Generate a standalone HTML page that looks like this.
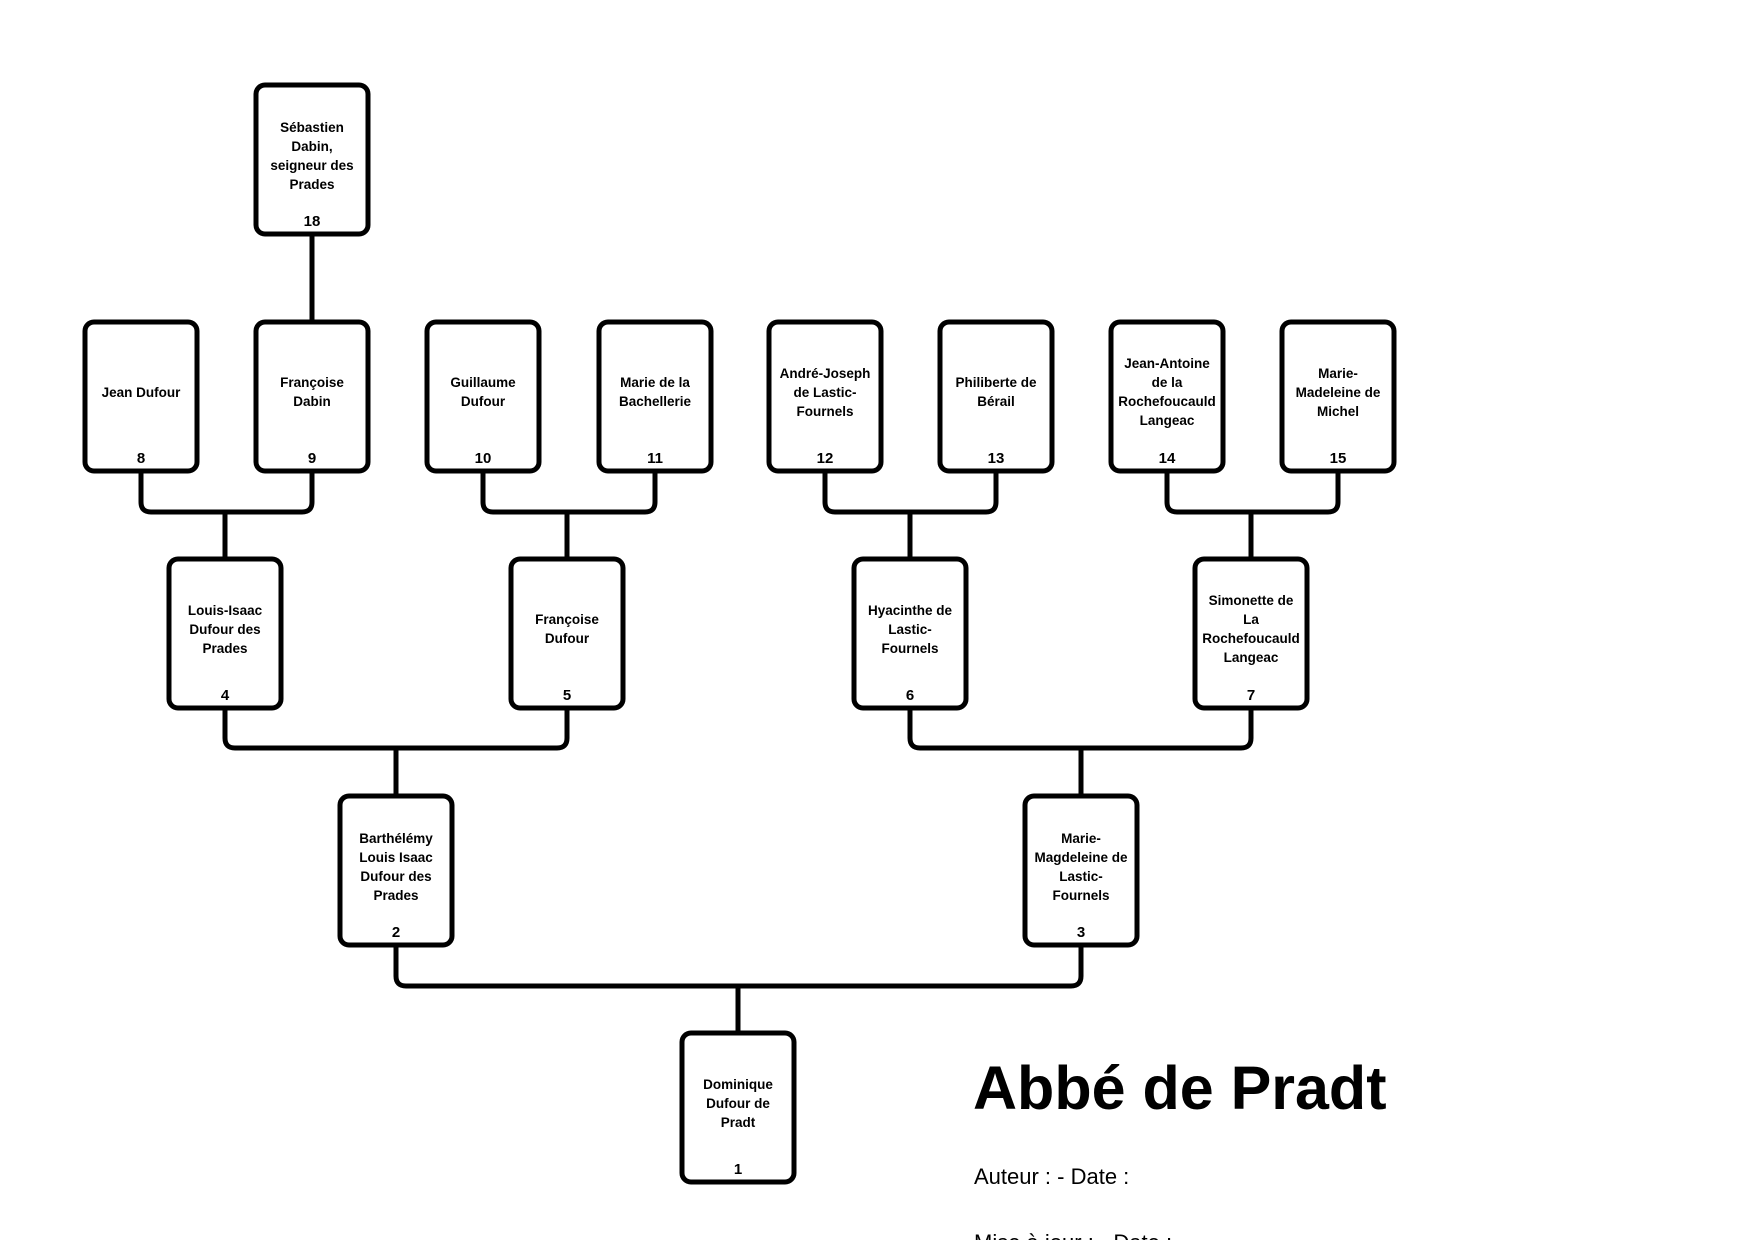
<!DOCTYPE html>
<html><head><meta charset="utf-8"><style>
html,body{margin:0;padding:0;background:#fff}
svg{display:block}
text{font-family:"Liberation Sans",sans-serif}
.n{font-weight:bold;font-size:13.5px;text-anchor:middle}
.b{fill:#fff;stroke:#000;stroke-width:5}
.c{fill:none;stroke:#000;stroke-width:5;stroke-linejoin:round}
</style></head><body>
<svg width="1754" height="1240" viewBox="0 0 1754 1240" xmlns="http://www.w3.org/2000/svg">
<g transform="translate(-3,-2)">
<path class="c" d="M315 236 V324"/>
<path class="c" d="M144 473 V504 q0 10 10 10 H305 q10 0 10 -10 V473"/>
<path class="c" d="M228 514 V561"/>
<path class="c" d="M486 473 V504 q0 10 10 10 H648 q10 0 10 -10 V473"/>
<path class="c" d="M570 514 V561"/>
<path class="c" d="M828 473 V504 q0 10 10 10 H989 q10 0 10 -10 V473"/>
<path class="c" d="M913 514 V561"/>
<path class="c" d="M1170 473 V504 q0 10 10 10 H1331 q10 0 10 -10 V473"/>
<path class="c" d="M1254 514 V561"/>
<path class="c" d="M228 710 V740 q0 10 10 10 H560 q10 0 10 -10 V710"/>
<path class="c" d="M399 750 V798"/>
<path class="c" d="M913 710 V740 q0 10 10 10 H1244 q10 0 10 -10 V710"/>
<path class="c" d="M1084 750 V798"/>
<path class="c" d="M399 948 V978 q0 10 10 10 H1074 q10 0 10 -10 V948"/>
<path class="c" d="M741 988 V1035"/>
<rect class="b" x="259" y="87" width="112" height="149" rx="9"/>
<rect class="b" x="88" y="324" width="112" height="149" rx="9"/>
<rect class="b" x="259" y="324" width="112" height="149" rx="9"/>
<rect class="b" x="430" y="324" width="112" height="149" rx="9"/>
<rect class="b" x="602" y="324" width="112" height="149" rx="9"/>
<rect class="b" x="772" y="324" width="112" height="149" rx="9"/>
<rect class="b" x="943" y="324" width="112" height="149" rx="9"/>
<rect class="b" x="1114" y="324" width="112" height="149" rx="9"/>
<rect class="b" x="1285" y="324" width="112" height="149" rx="9"/>
<rect class="b" x="172" y="561" width="112" height="149" rx="9"/>
<rect class="b" x="514" y="561" width="112" height="149" rx="9"/>
<rect class="b" x="857" y="561" width="112" height="149" rx="9"/>
<rect class="b" x="1198" y="561" width="112" height="149" rx="9"/>
<rect class="b" x="343" y="798" width="112" height="149" rx="9"/>
<rect class="b" x="1028" y="798" width="112" height="149" rx="9"/>
<rect class="b" x="685" y="1035" width="112" height="149" rx="9"/>
<g class="n">
<text x="315" y="134">Sébastien</text><text x="315" y="153">Dabin,</text><text x="315" y="172">seigneur des</text><text x="315" y="191">Prades</text><text x="315" y="228" font-size="15">18</text>
<text x="144" y="399">Jean Dufour</text><text x="144" y="465" font-size="15">8</text>
<text x="315" y="389">Françoise</text><text x="315" y="408">Dabin</text><text x="315" y="465" font-size="15">9</text>
<text x="486" y="389">Guillaume</text><text x="486" y="408">Dufour</text><text x="486" y="465" font-size="15">10</text>
<text x="658" y="389">Marie de la</text><text x="658" y="408">Bachellerie</text><text x="658" y="465" font-size="15">11</text>
<text x="828" y="380">André-Joseph</text><text x="828" y="399">de Lastic-</text><text x="828" y="418">Fournels</text><text x="828" y="465" font-size="15">12</text>
<text x="999" y="389">Philiberte de</text><text x="999" y="408">Bérail</text><text x="999" y="465" font-size="15">13</text>
<text x="1170" y="370">Jean-Antoine</text><text x="1170" y="389">de la</text><text x="1170" y="408">Rochefoucauld</text><text x="1170" y="427">Langeac</text><text x="1170" y="465" font-size="15">14</text>
<text x="1341" y="380">Marie-</text><text x="1341" y="399">Madeleine de</text><text x="1341" y="418">Michel</text><text x="1341" y="465" font-size="15">15</text>
<text x="228" y="617">Louis-Isaac</text><text x="228" y="636">Dufour des</text><text x="228" y="655">Prades</text><text x="228" y="702" font-size="15">4</text>
<text x="570" y="626">Françoise</text><text x="570" y="645">Dufour</text><text x="570" y="702" font-size="15">5</text>
<text x="913" y="617">Hyacinthe de</text><text x="913" y="636">Lastic-</text><text x="913" y="655">Fournels</text><text x="913" y="702" font-size="15">6</text>
<text x="1254" y="607">Simonette de</text><text x="1254" y="626">La</text><text x="1254" y="645">Rochefoucauld</text><text x="1254" y="664">Langeac</text><text x="1254" y="702" font-size="15">7</text>
<text x="399" y="845">Barthélémy</text><text x="399" y="864">Louis Isaac</text><text x="399" y="883">Dufour des</text><text x="399" y="902">Prades</text><text x="399" y="939" font-size="15">2</text>
<text x="1084" y="845">Marie-</text><text x="1084" y="864">Magdeleine de</text><text x="1084" y="883">Lastic-</text><text x="1084" y="902">Fournels</text><text x="1084" y="939" font-size="15">3</text>
<text x="741" y="1091">Dominique</text><text x="741" y="1110">Dufour de</text><text x="741" y="1129">Pradt</text><text x="741" y="1176" font-size="15">1</text>
</g>
<text x="976" y="1111" font-size="61" font-weight="bold">Abbé de Pradt</text>
<text x="977" y="1186" font-size="22">Auteur :  - Date :</text>
<text x="977" y="1252" font-size="22">Mise à jour :  - Date :</text>
</g>
</svg>
</body></html>
